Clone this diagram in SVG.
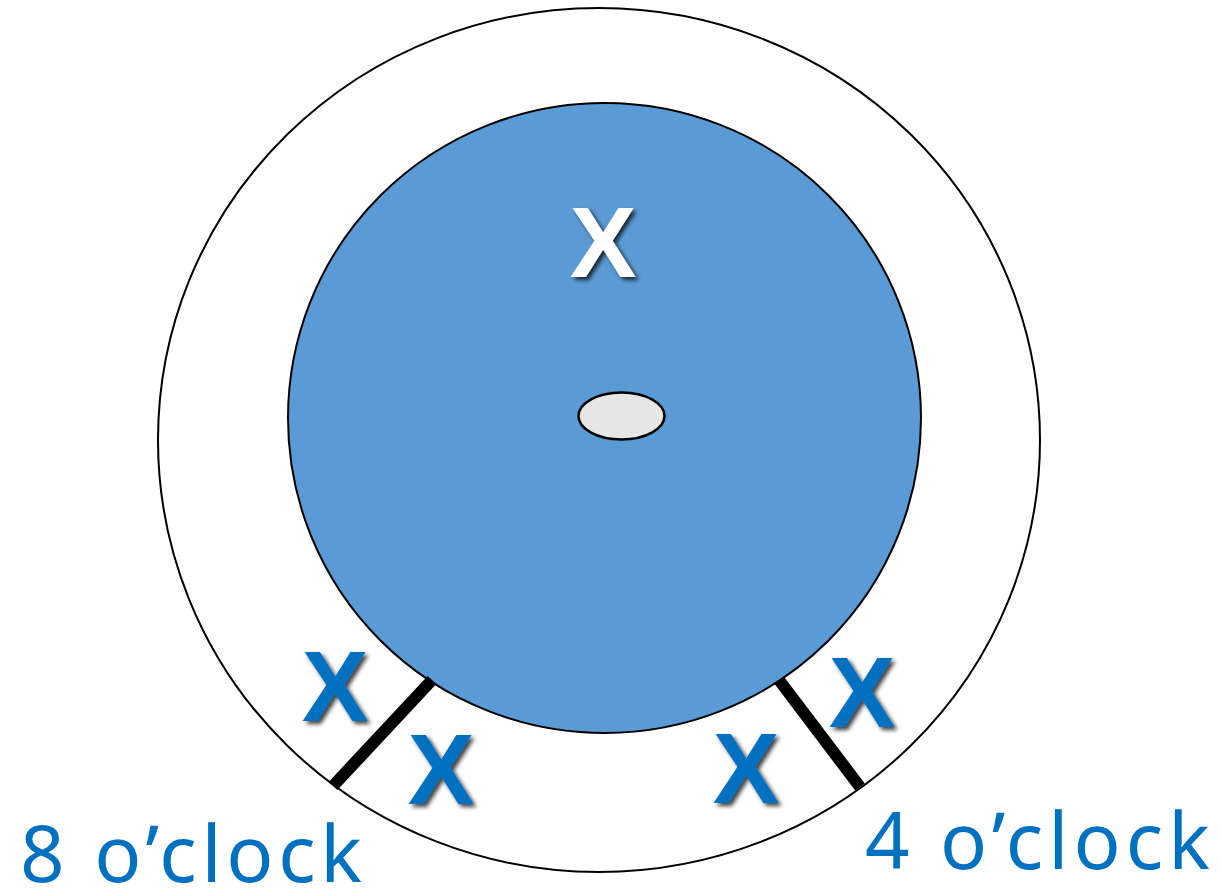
<svg xmlns="http://www.w3.org/2000/svg" width="1222" height="893" viewBox="0 0 1222 893">
  <defs>
    <filter id="shadow" x="-20%" y="-20%" width="150%" height="150%">
      <feDropShadow dx="3" dy="3" stdDeviation="2" flood-color="#000" flood-opacity="0.75"/>
    </filter>
    <style>
      .mark { font-family: "Liberation Sans", Arial, sans-serif; font-weight: bold; font-size: 100px; text-anchor: middle; filter: url(#shadow); }
      .blue { fill: #0070c0; }
      .white { fill: #ffffff; }
      .label { font-family: "Noto Sans", "Open Sans", sans-serif; font-size: 78px; fill: #0070c0; }
      .divider { stroke: #000; stroke-width: 12; }
    </style>
  </defs>
  <rect width="1222" height="893" fill="#fff"/>
  <g id="outer">
    <ellipse cx="599" cy="440" rx="441" ry="432" fill="#fff" stroke="#000" stroke-width="2"/>
  </g>
  <g id="inner">
    <ellipse cx="604.5" cy="418" rx="316.5" ry="315" fill="#5b9bd5" stroke="#000" stroke-width="2"/>
  </g>
  <g id="center">
    <ellipse cx="621.5" cy="416" rx="43" ry="23.5" fill="#e6e6e6" stroke="#000" stroke-width="2.5"/>
  </g>
  <g id="connectors">
    <line class="divider" x1="432" y1="680" x2="333" y2="786"/>
    <line class="divider" x1="779" y1="680" x2="860" y2="787"/>
  </g>
  <g id="marks">
    <text class="mark white" x="603" y="277">X</text>
    <text class="mark blue" x="335" y="721">X</text>
    <text class="mark blue" x="441" y="804">X</text>
    <text class="mark blue" x="746" y="803">X</text>
    <text class="mark blue" x="862" y="727">X</text>
  </g>
  <g id="labels">
    <text class="label" x="20" y="882" textLength="342" lengthAdjust="spacing">8 o’clock</text>
    <text class="label" x="865" y="869" textLength="345" lengthAdjust="spacing">4 o’clock</text>
  </g>
</svg>
